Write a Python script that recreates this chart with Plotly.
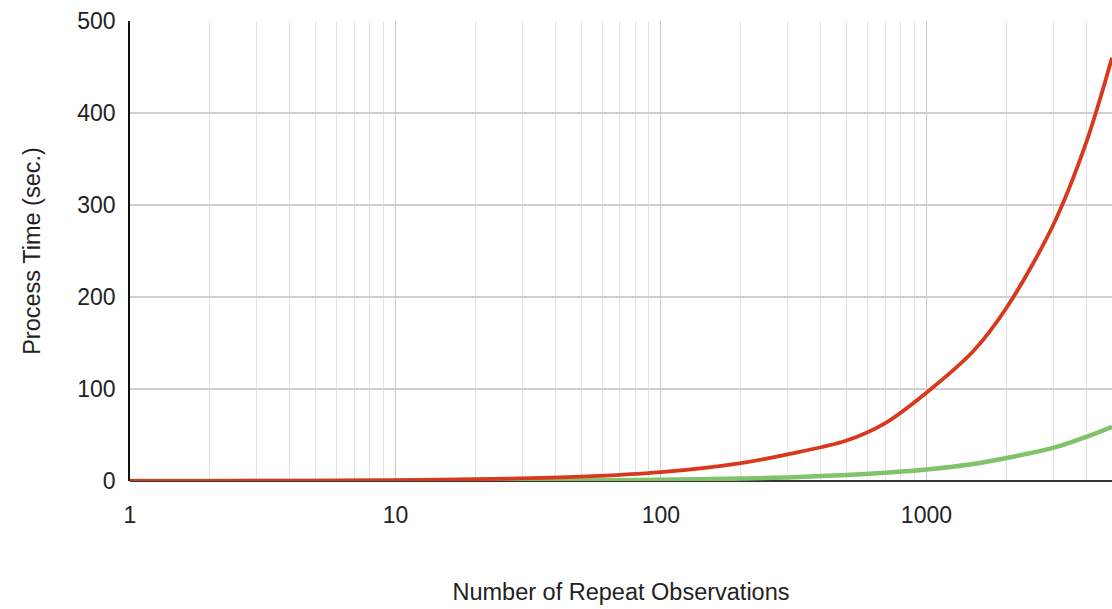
import plotly.graph_objects as go

# Number of repeat observations (log scale)
observations = [1, 2, 5, 10, 20, 50, 100, 200, 300, 500, 700, 1000, 1500, 2000, 3000, 4000, 5000]

# Processing time in seconds for each method
time_slow = [0.1, 0.2, 0.5, 1.0, 1.9, 4.7, 9.6, 19.5, 29, 44, 63, 96, 141, 188, 278, 368, 460]
time_fast = [0.01, 0.02, 0.06, 0.12, 0.25, 0.65, 1.3, 2.6, 3.9, 6.5, 9.0, 12.5, 18.5, 25, 36, 48, 59]

y_ticks = [0, 100, 200, 300, 400, 500]
x_ticks = [1, 10, 100, 1000]

FONT = "Liberation Sans, Arial, sans-serif"

fig = go.Figure()
fig.add_trace(go.Scatter(
    x=observations, y=time_fast, mode="lines",
    line=dict(color="#7fc36a", width=4.5, shape="spline", smoothing=0.9),
    showlegend=False,
))
fig.add_trace(go.Scatter(
    x=observations, y=time_slow, mode="lines",
    line=dict(color="#d8381c", width=3.8, shape="spline", smoothing=0.9),
    showlegend=False,
))

fig.update_layout(
    width=1112, height=609,
    margin=dict(l=130, r=0, t=21, b=128),
    paper_bgcolor="white", plot_bgcolor="white",
    font=dict(family=FONT, size=23, color="#222222"),
    xaxis=dict(
        type="log",
        range=[0, 3.699],
        tickvals=x_ticks,
        ticktext=[str(v) for v in x_ticks],
        showgrid=True, gridcolor="#c9c9c9", gridwidth=1.3,
        minor=dict(showgrid=True, gridcolor="#e3e3e3", gridwidth=1,
                   dtick="D1", ticks=""),
        zeroline=False, showline=False, ticks="",
        ticklabelstandoff=18,
        tickfont=dict(size=23),
        title=dict(text="Number of Repeat Observations", standoff=56,
                   font=dict(size=23.5, color="#222222")),
    ),
    yaxis=dict(
        range=[0, 500],
        tickvals=y_ticks,
        showgrid=True, gridcolor="#cfcfcf", gridwidth=1.5,
        zeroline=True, zerolinecolor="#333333", zerolinewidth=2,
        showline=True, linecolor="#111111", linewidth=1.5,
        ticks="", ticklabelstandoff=8,
        tickfont=dict(size=23),
        title=dict(text="Process Time (sec.)", standoff=30,
                   font=dict(size=23.5, color="#222222")),
    ),
)

fig.write_html("out.html")
